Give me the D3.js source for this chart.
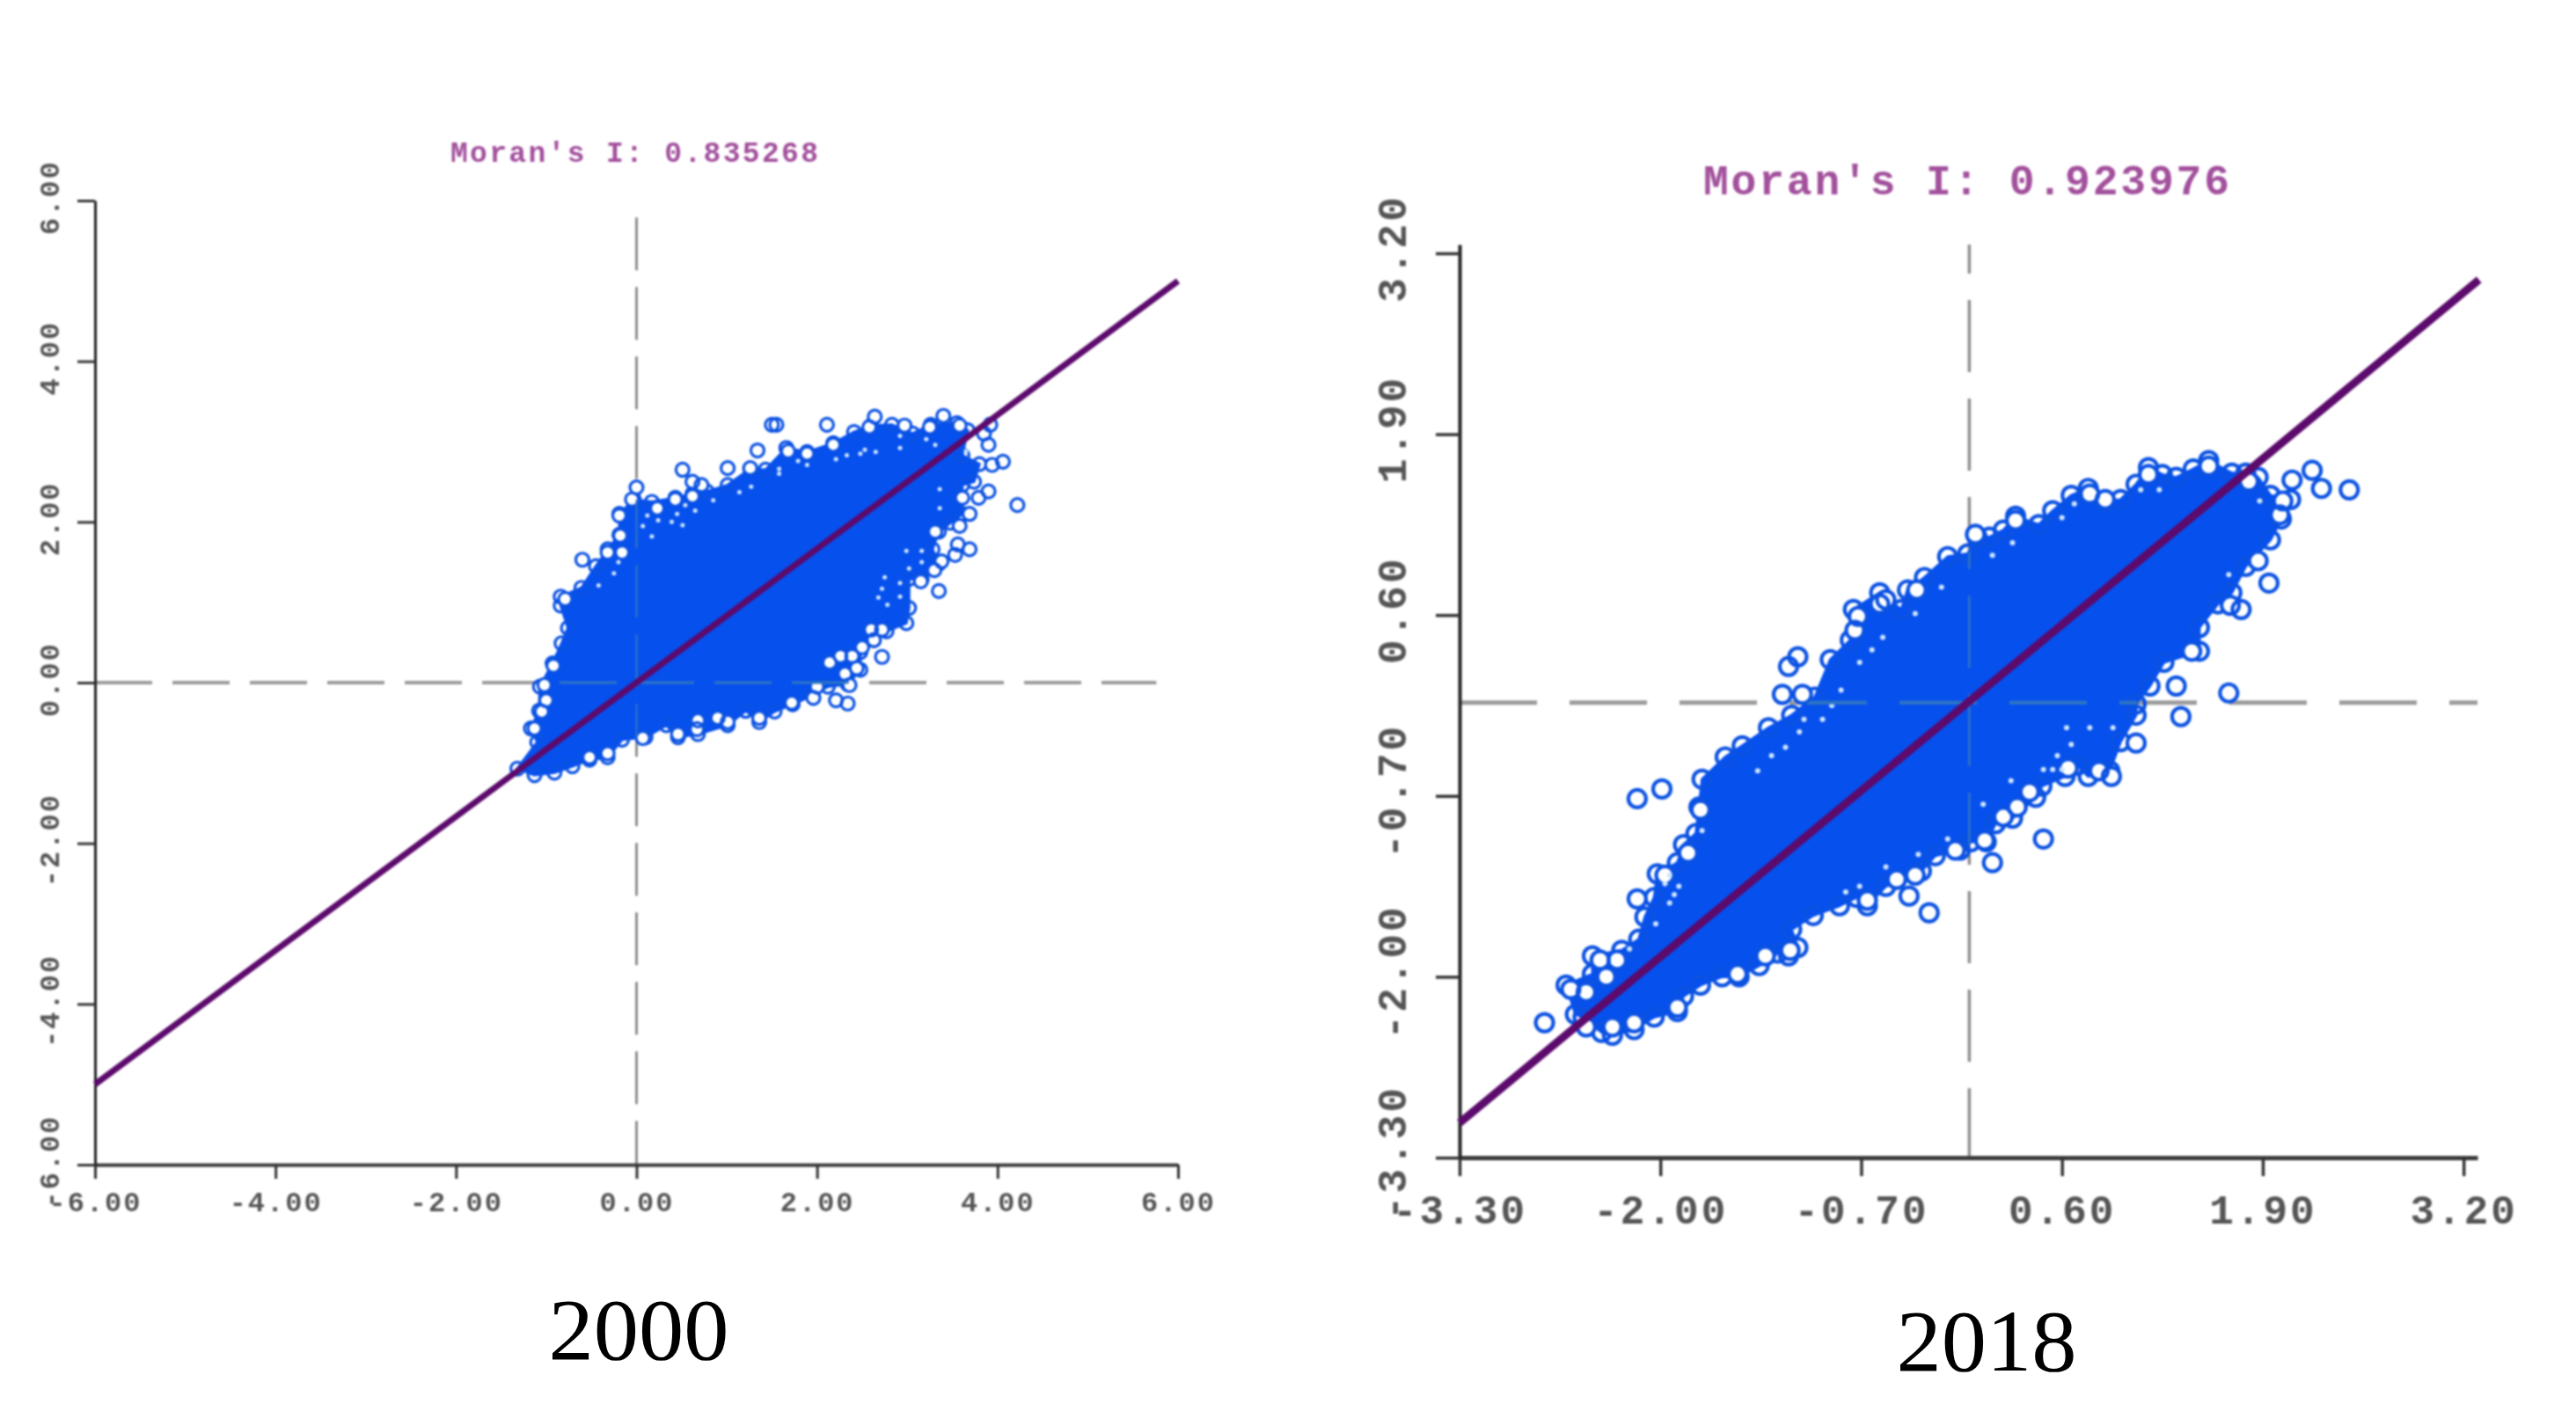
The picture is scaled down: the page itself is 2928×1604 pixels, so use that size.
<!DOCTYPE html>
<html lang="en">
<head>
<meta charset="UTF-8">
<title>Moran's I scatter 2000 / 2018</title>
<script src="https://cdn.jsdelivr.net/npm/d3@7/dist/d3.min.js"></script>
<style>
  body { margin: 0; background: #fff; }
  svg { display: block; }
</style>
</head>
<body>
<div id="chart"></div>
<script>
// values

var ticks2000 = [-6, -4, -2, 0, 2, 4, 6];
var ticks2018 = [-3.3, -2, -0.7, 0.6, 1.9, 3.2];

var title2000 = "Moran's I: 0.835268";
var title2018 = "Moran's I: 0.923976";

// regression line end points
var line2000 = [[-6, -5.0], [6, 5.0]];
var line2018 = [[-3.3, -3.05], [3.3, 3.01]];

// mean lines
var hLine2000 = [[-6, 0], [5.76, 0]];
var vLine2000 = [[0, 5.79], [0, -6]];
var hLine2018 = [[-3.3, -0.03], [3.29, -0.03]];
var vLine2018 = [[0, 3.263], [0, -3.3]];

// edge of the solid part of the point cloud
var cloud2000 = [[-1.32,-1.07],[-1.10,-0.74],[-1.17,-0.57],[-1.08,-0.35],[-1.07,-0.05],[-0.93,0.24],[-0.83,0.49],[-0.76,0.68],[-0.84,0.96],[-0.84,1.07],[-0.61,1.18],[-0.45,1.45],[-0.32,1.66],[-0.19,1.84],[-0.19,2.10],[-0.03,2.28],[0.17,2.25],[0.43,2.30],[0.62,2.35],[0.78,2.38],[1.01,2.46],[1.26,2.66],[1.43,2.65],[1.66,2.92],[1.89,2.87],[2.18,2.98],[2.41,3.12],[2.60,3.20],[2.83,3.21],[3.06,3.10],[3.26,3.21],[3.55,3.23],[3.67,3.14],[3.61,2.83],[3.80,2.72],[3.74,2.50],[3.61,2.46],[3.61,2.10],[3.48,1.99],[3.35,1.88],[3.28,1.66],[3.35,1.48],[3.16,1.29],[3.02,1.29],[3.02,0.93],[2.99,0.74],[2.77,0.64],[2.63,0.53],[2.48,0.38],[2.48,0.16],[2.34,-0.02],[2.12,-0.05],[1.95,-0.16],[1.73,-0.27],[1.53,-0.36],[1.36,-0.49],[1.21,-0.35],[1.01,-0.53],[0.68,-0.64],[0.46,-0.68],[0.33,-0.53],[0.10,-0.68],[-0.16,-0.71],[-0.32,-0.93],[-0.52,-0.96],[-0.71,-1.04],[-0.91,-1.12],[-1.13,-1.15]];

var cloud2018 = [[-2.50,-2.29],[-2.38,-2.40],[-2.31,-2.42],[-2.17,-2.38],[-2.04,-2.29],[-1.89,-2.25],[-1.85,-2.14],[-1.74,-2.06],[-1.60,-2.00],[-1.49,-2.00],[-1.36,-1.92],[-1.24,-1.83],[-1.17,-1.85],[-1.11,-1.79],[-1.15,-1.66],[-1.01,-1.56],[-0.84,-1.49],[-0.73,-1.43],[-0.66,-1.49],[-0.54,-1.35],[-0.31,-1.24],[-0.22,-1.13],[-0.06,-1.09],[0.01,-1.03],[0.11,-1.03],[0.17,-0.90],[0.28,-0.86],[0.43,-0.71],[0.47,-0.63],[0.62,-0.56],[0.70,-0.48],[0.77,-0.56],[0.91,-0.52],[0.98,-0.31],[1.08,-0.12],[1.08,-0.04],[1.17,0.09],[1.26,0.26],[1.49,0.34],[1.49,0.51],[1.61,0.68],[1.70,0.76],[1.79,0.95],[1.95,1.14],[2.02,1.29],[2.08,1.43],[1.95,1.46],[1.87,1.59],[1.79,1.62],[1.70,1.62],[1.55,1.71],[1.45,1.65],[1.34,1.59],[1.25,1.61],[1.16,1.66],[1.08,1.54],[0.98,1.43],[0.88,1.42],[0.77,1.51],[0.66,1.46],[0.54,1.35],[0.45,1.25],[0.30,1.31],[0.22,1.21],[0.13,1.16],[0.05,1.16],[-0.01,1.04],[-0.14,1.02],[-0.29,0.87],[-0.40,0.78],[-0.44,0.64],[-0.58,0.76],[-0.75,0.64],[-0.77,0.42],[-0.90,0.28],[-1.00,0.01],[-1.15,-0.12],[-1.30,-0.21],[-1.47,-0.34],[-1.58,-0.42],[-1.73,-0.58],[-1.75,-0.78],[-1.77,-0.97],[-1.85,-1.05],[-1.89,-1.18],[-2.02,-1.26],[-2.04,-1.43],[-2.10,-1.57],[-2.14,-1.73],[-2.25,-1.81],[-2.44,-1.85],[-2.44,-1.98],[-2.61,-2.06],[-2.55,-2.27]];

// single points that can still be seen as rings
var points2000 = [[1.50,3.21],[1.34,2.89],[1.01,2.67],[1.26,2.67],[0.51,2.65],[0.62,2.50],[0.72,2.46],[0.00,2.43],[-0.05,2.28],[-0.19,2.08],[0.43,2.28],[0.62,2.32],[0.23,2.17],[-0.18,1.83],[-0.32,1.62],[-0.16,1.62],[-0.60,1.53],[-0.79,1.04],[1.55,3.21],[2.11,3.21],[2.64,3.31],[3.40,3.32],[2.58,3.18],[2.97,3.20],[3.25,3.18],[3.58,3.20],[3.92,3.21],[3.85,3.10],[3.90,2.96],[4.06,2.75],[3.94,2.71],[3.90,2.38],[4.22,2.21],[3.79,2.30],[3.61,2.30],[3.69,2.10],[3.58,1.95],[3.31,1.88],[3.56,1.72],[3.69,1.66],[3.53,1.59],[3.38,1.51],[3.30,1.40],[3.15,1.26],[3.35,1.14],[2.18,2.96],[1.68,2.88],[1.89,2.85],[2.72,0.32],[2.72,0.66],[2.60,0.66],[2.63,0.53],[2.50,0.44],[2.39,0.33],[2.26,0.33],[2.14,0.25],[2.44,0.18],[2.31,0.11],[2.36,-0.03],[2.00,-0.05],[1.96,-0.19],[1.72,-0.25],[2.21,-0.22],[2.34,-0.26],[-0.92,0.21],[-1.02,-0.03],[-1.00,-0.22],[-1.05,-0.36],[-1.13,-0.57],[-0.32,-0.88],[-0.52,-0.93],[0.07,-0.69],[0.46,-0.64],[0.67,-0.58],[0.68,-0.47],[0.90,-0.44],[1.01,-0.49],[1.36,-0.44]];

var points2018 = [[-1.99,-0.65],[-2.15,-0.72],[-1.74,-0.80],[-1.82,-1.11],[-1.97,-1.27],[-2.15,-1.44],[-2.39,-1.88],[-2.28,-1.88],[-2.35,-2.00],[-2.58,-2.09],[-2.48,-2.11],[-2.75,-2.33],[-2.48,-2.36],[-2.31,-2.36],[-2.17,-2.33],[-1.89,-2.22],[-1.50,-1.98],[-1.32,-1.85],[-1.16,-1.81],[-0.66,-1.45],[-0.47,-1.30],[-0.39,-1.42],[-1.21,0.03],[-1.08,0.03],[-1.11,0.30],[-1.17,0.23],[-0.72,0.59],[-0.74,0.49],[-0.54,0.71],[-0.58,0.68],[-0.34,0.78],[0.04,1.18],[1.08,-0.32],[0.92,-0.56],[0.84,-0.52],[0.30,1.28],[0.78,1.47],[0.88,1.43],[1.16,1.61],[1.55,1.67],[1.81,1.56],[2.22,1.64],[2.09,1.57],[2.28,1.51],[2.46,1.50],[2.03,1.42],[2.01,1.32],[1.87,0.99],[1.94,0.83],[1.76,0.64],[1.69,0.67],[1.44,0.34],[1.34,0.09],[1.68,0.04],[1.37,-0.13],[0.64,-0.50],[0.48,-1.01],[0.39,-0.67],[0.31,-0.78],[0.22,-0.85],[0.10,-1.02],[0.15,-1.18],[-0.09,-1.09],[-0.35,-1.27],[-0.26,-1.54]];

// pale holes left between rings near the edge
var gaps2000 = [[0.17,1.82],[0.07,1.95],[0.24,2.02],[0.12,2.08],[0.39,2.00],[0.45,2.10],[0.51,1.96],[0.65,2.14],[0.54,2.21],[0.85,2.27],[1.14,2.37],[1.27,2.44],[-0.25,1.36],[-0.42,1.21],[-0.20,1.50],[1.89,2.71],[1.79,2.76],[1.58,2.60],[1.58,2.66],[2.21,2.78],[2.33,2.83],[2.48,2.85],[2.53,2.90],[2.65,2.87],[2.92,2.92],[2.92,3.07],[3.21,3.03],[3.31,2.96],[3.65,2.88],[3.36,2.17],[3.36,2.41],[2.99,1.64],[3.16,1.64],[3.16,1.50],[3.02,1.42],[2.75,1.31],[2.72,1.17],[2.68,1.06],[2.78,0.97],[2.92,1.07],[2.92,1.24]];

var gaps2018 = [[-0.35,0.61],[-0.56,0.44],[-0.63,0.35],[-0.71,0.26],[-0.83,0.06],[-0.89,-0.05],[-0.95,-0.15],[-1.07,-0.15],[-1.10,-0.24],[-1.19,-0.35],[-1.28,-0.41],[-1.37,-0.52],[-0.18,0.80],[0.15,1.03],[0.28,1.12],[-1.73,-0.95],[-1.94,-1.27],[-1.97,-1.33],[-1.88,-1.35],[-1.91,-1.41],[-1.94,-1.47],[-2.03,-1.62],[-2.20,-1.80],[0.63,-0.21],[0.78,-0.21],[0.93,-0.21],[0.66,-0.33],[0.57,-0.41],[0.27,-0.59],[0.09,-0.76],[-0.14,-1.01],[-0.33,-1.12],[-0.54,-1.21],[-0.71,-1.35],[-0.80,-1.39],[0.48,-0.51],[0.54,-0.51],[0.60,-0.51],[1.23,1.50],[1.11,1.50],[0.68,1.40],[0.60,1.30],[1.68,0.89],[1.88,1.42]];

var width = 2928, height = 1604;

var svg = d3.select("#chart").append("svg")
  .attr("width", width)
  .attr("height", height)
  .attr("viewBox", "0 0 " + width + " " + height);

svg.append("rect").attr("width", width).attr("height", height).attr("fill", "#fff");

var mono = "'Liberation Mono', 'DejaVu Sans Mono', monospace";

function drawPanel(p) {
  var g = svg.append("g").style("filter", "blur(" + p.blur + "px)");

  var x = d3.scaleLinear().domain(p.xDomain).range(p.xRange);
  var y = d3.scaleLinear().domain(p.yDomain).range(p.yRange);
  var toPath = d3.line().x(function(d) { return x(d[0]); }).y(function(d) { return y(d[1]); });

  // dashed mean lines go under the cloud
  function dashes(parent, hStroke, vStroke, hw, vw) {
    parent.append("path").attr("d", toPath(p.hLine)).attr("fill", "none")
      .attr("stroke", hStroke).attr("stroke-width", hw).attr("stroke-dasharray", p.hDash);
    parent.append("path").attr("d", toPath(p.vLine)).attr("fill", "none")
      .attr("stroke", vStroke).attr("stroke-width", vw)
      .attr("stroke-dasharray", p.vDash).attr("stroke-dashoffset", p.vOffset);
  }
  dashes(g, "#9b9b9b", "#8f8f8f", p.hDashW, p.vDashW);

  g.append("path")
    .attr("d", toPath(p.cloud) + "Z")
    .attr("fill", "#0650ee")
    .attr("stroke", "#0650ee")
    .attr("stroke-width", 3)
    .attr("stroke-linejoin", "round");

  function rings(cls, data, fill) {
    g.selectAll("circle." + cls)
      .data(data)
      .enter().append("circle")
      .attr("class", cls)
      .attr("cx", function(d) { return x(d[0]); })
      .attr("cy", function(d) { return y(d[1]); })
      .attr("r", p.ringR)
      .attr("fill", fill)
      .attr("stroke", fill == "none" ? "#0b52e2" : "none")
      .attr("stroke-width", p.ringW);
  }
  // edge points make the outline lumpy, seen rings get an open centre
  rings("edge", p.cloud, "none");
  rings("hole", p.points, "#fff");
  rings("ring", p.points, "none");

  g.selectAll("circle.gap")
    .data(p.gaps)
    .enter().append("circle")
    .attr("class", "gap")
    .attr("cx", function(d) { return x(d[0]); })
    .attr("cy", function(d) { return y(d[1]); })
    .attr("r", p.gapR)
    .attr("fill", "#cfe6ff");

  // same dashes again, tinted, only where the cloud covers them
  var clipId = "clip" + p.name;
  g.append("clipPath").attr("id", clipId).append("path").attr("d", toPath(p.cloud) + "Z");
  var tinted = g.append("g").attr("clip-path", "url(#" + clipId + ")");
  dashes(tinted, "#2f76c4", "#2f76c4", p.hDashW - 1, p.vDashW - 1);

  // axes
  var xAxis = g.append("g")
    .attr("transform", "translate(0," + p.yRange[0] + ")")
    .call(d3.axisBottom(x).tickValues(p.ticks).tickFormat(function(d) { return d.toFixed(2); })
      .tickSize(p.xTick).tickSizeOuter(0));
  var yAxis = g.append("g")
    .attr("transform", "translate(" + p.xRange[0] + ",0)")
    .call(d3.axisLeft(y).tickValues(p.ticks).tickFormat(function(d) { return d.toFixed(2); })
      .tickSize(p.yTick).tickSizeOuter(0));

  xAxis.select(".domain").attr("stroke", "#3a3a3a").attr("stroke-width", p.xAxisW);
  yAxis.select(".domain").attr("stroke", "#222").attr("stroke-width", p.yAxisW);
  xAxis.selectAll(".tick line").attr("stroke", "#333").attr("stroke-width", p.tickW);
  yAxis.selectAll(".tick line").attr("stroke", "#333").attr("stroke-width", p.tickW);

  xAxis.selectAll("text")
    .attr("y", p.xLabelY - p.yRange[0])
    .attr("dy", 0)
    .attr("dominant-baseline", "central")
    .attr("font-family", mono)
    .attr("font-weight", "bold")
    .attr("font-size", p.tickFont)
    .attr("letter-spacing", p.tickSpacing)
    .attr("fill", "#555");

  yAxis.selectAll("text")
    .attr("x", 0)
    .attr("dy", 0)
    .attr("text-anchor", "middle")
    .attr("dominant-baseline", "central")
    .attr("transform", "translate(" + (p.yLabelX - p.xRange[0]) + "," + p.yLabelShift + ") rotate(-90)")
    .attr("font-family", mono)
    .attr("font-weight", "bold")
    .attr("font-size", p.tickFont)
    .attr("letter-spacing", p.tickSpacing)
    .attr("fill", "#555");

  g.append("path")
    .attr("d", toPath(p.line))
    .attr("fill", "none")
    .attr("stroke", "#5c0a6c")
    .attr("stroke-width", p.lineW);

  g.append("text")
    .attr("x", p.titleX)
    .attr("y", p.titleY)
    .attr("text-anchor", "middle")
    .attr("dominant-baseline", "central")
    .attr("font-family", mono)
    .attr("font-weight", "bold")
    .attr("font-size", p.titleFont)
    .attr("textLength", p.titleLen)
    .attr("fill", "#a2509c")
    .text(p.title);

  svg.append("text")
    .attr("x", p.yearX)
    .attr("y", p.yearY)
    .attr("text-anchor", "middle")
    .attr("font-family", "'Liberation Serif', serif")
    .attr("font-size", 100)
    .attr("textLength", 205)
    .attr("lengthAdjust", "spacingAndGlyphs")
    .attr("fill", "#000")
    .text(p.year);
}

drawPanel({
  name: "a", year: "2000", title: title2000,
  ticks: ticks2000, line: line2000, hLine: hLine2000, vLine: vLine2000,
  cloud: cloud2000, points: points2000, gaps: gaps2000,
  xDomain: [-6, 6], yDomain: [-6, 6],
  xRange: [108, 1339], yRange: [1324, 228],
  blur: 1,
  hDash: "65,23", vDash: "60,19", vOffset: 0, hDashW: 4, vDashW: 3,
  ringR: 7.5, ringW: 3.2, gapR: 2.5,
  lineW: 7, xAxisW: 4, yAxisW: 3, tickW: 3, xTick: 16, yTick: 20,
  tickFont: 32, tickSpacing: 2, xLabelY: 1368, yLabelX: 58, yLabelShift: -4,
  titleX: 721, titleY: 175, titleFont: 33, titleLen: 418,
  yearX: 726, yearY: 1545
});

drawPanel({
  name: "b", year: "2018", title: title2018,
  ticks: ticks2018, line: line2018, hLine: hLine2018, vLine: vLine2018,
  cloud: cloud2018, points: points2018, gaps: gaps2018,
  xDomain: [-3.3, 3.29], yDomain: [-3.3, 3.263],
  xRange: [1659, 2816], yRange: [1316, 278],
  blur: 1.3,
  hDash: "88,37", vDash: "82,30", vOffset: 49, hDashW: 5, vDashW: 3.5,
  ringR: 10, ringW: 4.2, gapR: 3,
  lineW: 9, xAxisW: 5, yAxisW: 4, tickW: 3.5, xTick: 21, yTick: 27,
  tickFont: 46, tickSpacing: 3, xLabelY: 1379, yLabelX: 1586, yLabelShift: -6,
  titleX: 2235, titleY: 208, titleFont: 48, titleLen: 598,
  yearX: 2258, yearY: 1558
});
</script>
</body>
</html>
